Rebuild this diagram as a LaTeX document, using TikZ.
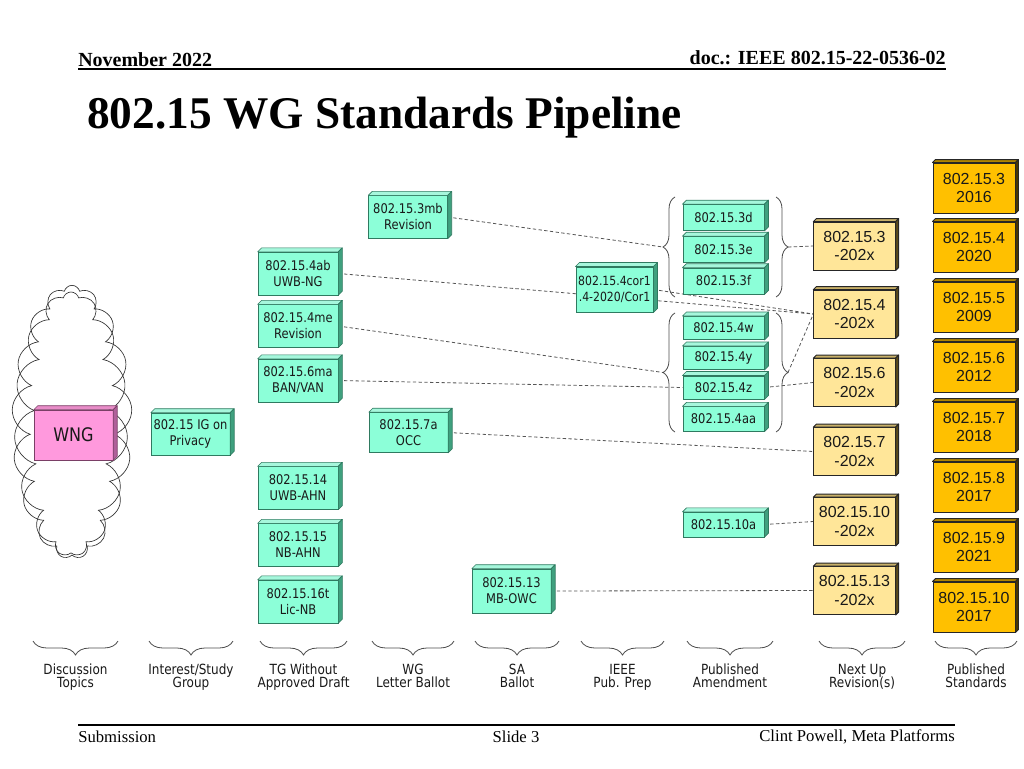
\documentclass[tikz,border=0pt]{standalone}
\usepackage{fontspec}
\setmainfont{Liberation Serif}
\newfontfamily\boxfont[FakeStretch=0.86]{DejaVu Sans}
\newfontfamily\stdfont{Liberation Sans}
\usetikzlibrary{shapes.symbols,decorations.pathreplacing}
\setlength{\lineskiplimit}{-20pt}
\pgfdeclarelayer{bg}
\pgfsetlayers{bg,main}
\definecolor{gfront}{HTML}{8CFFD8}
\definecolor{gtopc}{HTML}{A6F7DC}
\definecolor{gsidec}{HTML}{3FA07E}
\definecolor{gline}{HTML}{2F7A60}
\definecolor{pfront}{HTML}{FF99DD}
\definecolor{ptopc}{HTML}{E88CC8}
\definecolor{psidec}{HTML}{B0609A}
\definecolor{pline}{HTML}{7A3F66}
\definecolor{yfront}{HTML}{FFE699}
\definecolor{ytopc}{HTML}{C8B068}
\definecolor{ysidec}{HTML}{5A4A1A}
\definecolor{ofront}{HTML}{FFC000}
\definecolor{otopc}{HTML}{B08400}
\definecolor{osidec}{HTML}{4A3800}
\definecolor{connc}{HTML}{555555}
\newcommand\drawcube[3][4]{%
  \filldraw[#3top] (#2.north west) -- ++(#1,-#1) -- ([shift={(#1,-#1)}]#2.north east) -- (#2.north east) -- cycle;
  \filldraw[#3side] (#2.north east) -- ([shift={(#1,-#1)}]#2.north east) -- ([shift={(#1,-#1)}]#2.south east) -- (#2.south east) -- cycle;}
\begin{document}
\begin{tikzpicture}[x=0.75pt,y=-0.75pt,
  gbox/.style={draw=gline, fill=gfront, line width=0.5pt, inner sep=0pt, align=center,
    font=\boxfont\fontsize{10}{12}\selectfont, text=black!90},
  big/.style={minimum width=60pt, minimum height=32pt},
  small/.style={minimum width=61pt, minimum height=17.5pt},
  smallb/.style={minimum width=61pt, minimum height=19.5pt},
  gtop/.style={draw=gline, fill=gtopc, line width=0.5pt, line join=round},
  gside/.style={draw=gline, fill=gsidec, line width=0.5pt, line join=round},
  pbox/.style={draw=pline, fill=pfront, line width=0.5pt, inner sep=0pt,
    font=\boxfont\fontsize{14}{16}\selectfont, text=black!90, minimum width=59pt, minimum height=37.5pt},
  ptop/.style={draw=pline, fill=ptopc, line width=0.5pt, line join=round},
  pside/.style={draw=pline, fill=psidec, line width=0.5pt, line join=round},
  ybox/.style={draw=black!85, fill=yfront, line width=0.7pt, inner sep=0pt, align=center,
    font=\stdfont\fontsize{12}{14}\selectfont, text=black!90, minimum width=61pt, minimum height=36pt},
  ytop/.style={draw=black!85, fill=ytopc, line width=0.7pt, line join=round},
  yside/.style={draw=black!85, fill=ysidec, line width=0.7pt, line join=round},
  obox/.style={draw=black!85, fill=ofront, line width=0.7pt, inner sep=0pt, align=center,
    font=\stdfont\fontsize{12}{13.5}\selectfont, text=black!90, minimum width=61.5pt, minimum height=37.5pt},
  otop/.style={draw=black!85, fill=otopc, line width=0.7pt, line join=round},
  oside/.style={draw=black!85, fill=osidec, line width=0.7pt, line join=round},
  conn/.style={draw=connc, line width=0.6pt, dash pattern=on 2.5pt off 1.8pt},
  brc/.style={draw=gray!60!black, line width=0.6pt, decorate},
  lbl/.style={anchor=north, align=center, inner sep=0pt,
    font=\boxfont\fontsize{10.5}{9.75}\selectfont, text=black!90},
  cloudst/.style={cloud, draw=gray!40!black, line width=0.5pt, inner sep=0pt}
]
\useasboundingbox (0,0) rectangle (1024,768);

% header and footer
\node[anchor=base west, inner sep=0pt, font=\fontsize{15}{18}\selectfont\bfseries] (date) at (78,66) {November 2022};
\node[anchor=base east, inner sep=0pt, font=\fontsize{15}{18}\selectfont\bfseries] (doc) at (946,64) {doc.: IEEE 802.15-22-0536-02};
\draw[line width=1.5pt] (78,69) -- (946,69);
\node[anchor=base west, inner sep=0pt, font=\fontsize{34}{40}\selectfont\bfseries] (title) at (87,128) {802.15 WG Standards Pipeline};
\draw[line width=1pt] (78,725) -- (955,725);
\node[anchor=base west, inner sep=0pt, font=\fontsize{12.5}{15}\selectfont] (sub) at (78,742) {Submission};
\node[anchor=base, inner sep=0pt, font=\fontsize{12.5}{15}\selectfont] (slide) at (516,742) {Slide 3};
\node[anchor=base east, inner sep=0pt, font=\fontsize{12.5}{15}\selectfont] (auth) at (955,741) {Clint Powell, Meta Platforms};

% cloud
\node[cloudst, cloud puffs=17, aspect=0.5, minimum width=90pt, minimum height=205pt] (cloudA) at (72,422) {};
\node[cloudst, cloud puffs=15, aspect=0.48, minimum width=85pt, minimum height=198pt, shape border rotate=10] (cloudB) at (71,424) {};

% pink
\node[pbox] (wng) at (73.5,435) {WNG};
\drawcube{wng}{p}

% green boxes
\node[gbox, minimum width=59pt, minimum height=31.5pt] (ig) at (190.5,434) {802.15 IG on\\Privacy};
\node[gbox, minimum width=59pt, minimum height=32pt] (s3mb) at (408,217) {802.15.3mb\\Revision};
\node[gbox, big] (s4ab) at (298,273.5) {802.15.4ab\\UWB-NG};
\node[gbox, big] (s4me) at (298,326) {802.15.4me\\Revision};
\node[gbox, big] (s6ma) at (298,380.5) {802.15.6ma\\BAN/VAN};
\node[gbox, minimum width=59pt, minimum height=30pt] (s7a) at (408.5,432.5) {802.15.7a\\OCC};
\node[gbox, big] (s14) at (298,488) {802.15.14\\UWB-AHN};
\node[gbox, big] (s15) at (298,545) {802.15.15\\NB-AHN};
\node[gbox, big] (s16t) at (298,601.5) {802.15.16t\\Lic-NB};
\node[gbox, minimum width=59pt, minimum height=33pt] (s13) at (511.5,591) {802.15.13\\MB-OWC};
\node[gbox, minimum width=58pt, minimum height=34pt, font=\boxfont\fontsize{9.5}{12}\selectfont] (cor1) at (614.5,289.5) {802.15.4cor1\\.4-2020/Cor1};
\node[gbox, smallb] (s3d) at (723.5,217.5) {802.15.3d};
\node[gbox, smallb] (s3e) at (723.5,249.5) {802.15.3e};
\node[gbox, smallb] (s3f) at (723.5,281) {802.15.3f};
\node[gbox, small] (s4w) at (723.5,328) {802.15.4w};
\node[gbox, small] (s4y) at (723.5,358) {802.15.4y};
\node[gbox, small] (s4z) at (723.5,387.5) {802.15.4z};
\node[gbox, small, minimum height=18.5pt] (s4aa) at (723.5,419) {802.15.4aa};
\node[gbox, small, minimum height=18.5pt] (s10a) at (723.5,524.5) {802.15.10a};
\foreach \n in {ig,s3mb,s4ab,s4me,s6ma,s7a,s14,s15,s16t,s13,cor1,s3d,s3e,s3f,s4w,s4y,s4z,s4aa,s10a}{\drawcube{\n}{g}}

% next-up revisions
\node[ybox] (n3) at (854.5,246) {802.15.3\\-202x};
\node[ybox] (n4) at (854.5,314) {802.15.4\\-202x};
\node[ybox] (n6) at (854.5,382.5) {802.15.6\\-202x};
\node[ybox] (n7) at (854.5,451.5) {802.15.7\\-202x};
\node[ybox] (n10) at (854.5,521.5) {802.15.10\\-202x};
\node[ybox] (n13) at (854.5,590.5) {802.15.13\\-202x};
\foreach \n in {n3,n4,n6,n7,n10,n13}{\drawcube[3]{\n}{y}}

% published standards
\node[obox] (p3) at (974,188) {802.15.3\\2016};
\node[obox] (p4) at (974,247) {802.15.4\\2020};
\node[obox] (p5) at (974,307) {802.15.5\\2009};
\node[obox] (p6) at (974,367) {802.15.6\\2012};
\node[obox] (p7) at (974,427) {802.15.7\\2018};
\node[obox] (p8) at (974,487) {802.15.8\\2017};
\node[obox] (p9) at (974,547) {802.15.9\\2021};
\node[obox] (p10) at (974,607) {802.15.10\\2017};
\foreach \n in {p3,p4,p5,p6,p7,p8,p9,p10}{\drawcube[3]{\n}{o}}

% group braces
\draw[brc, decoration={brace, amplitude=9pt}] (675,297) -- (675,197);
\draw[brc, decoration={brace, amplitude=9pt}] (776,197) -- (776,297);
\draw[brc, decoration={brace, amplitude=9pt}] (675,432) -- (675,313);
\draw[brc, decoration={brace, amplitude=9pt}] (776,313) -- (776,432);
\coordinate (b3l) at (663,247);
\coordinate (b3r) at (788,247);
\coordinate (b4l) at (663,372.5);
\coordinate (b4r) at (788,372.5);

% connectors
\begin{pgfonlayer}{bg}
\draw[conn] (s3mb.east) -- (b3l);
\draw[conn] (s4ab.east) -- (n4.west);
\draw[conn] (cor1.east) -- (n4.west);
\draw[conn] (s4me.east) -- (b4l);
\draw[conn] (s6ma.east) -- (s4z.west);
\draw[conn] (s4z.east) -- (n6.west);
\draw[conn] (s7a.east) -- (n7.west);
\draw[conn] (s10a.east) -- (n10.west);
\draw[conn] (s13.east) -- (n13.west);
\draw[conn] (b3r) -- (n3.west);
\draw[conn] (b4r) -- (n4.west);
\end{pgfonlayer}

% stage braces and labels
\foreach \a/\b in {33/118,149/233,260/347,372/454,475/559,581/664,687/773,819/905,935/1017}{
  \draw[brc, decoration={brace, amplitude=10.5pt}] (\b,641) -- (\a,641);}
\node[lbl] (l1) at (75.5,664) {\strut Discussion\\\strut Topics};
\node[lbl] (l2) at (191,664) {\strut Interest/Study\\\strut Group};
\node[lbl] (l3) at (303.5,664) {\strut TG Without\\\strut Approved Draft};
\node[lbl] (l4) at (413,664) {\strut WG\\\strut Letter Ballot};
\node[lbl] (l5) at (517,664) {\strut SA\\\strut Ballot};
\node[lbl] (l6) at (622.5,664) {\strut IEEE\\\strut Pub. Prep};
\node[lbl] (l7) at (730,664) {\strut Published\\\strut Amendment};
\node[lbl] (l8) at (862,664) {\strut Next Up\\\strut Revision(s)};
\node[lbl] (l9) at (976,664) {\strut Published\\\strut Standards};
\end{tikzpicture}
\end{document}
